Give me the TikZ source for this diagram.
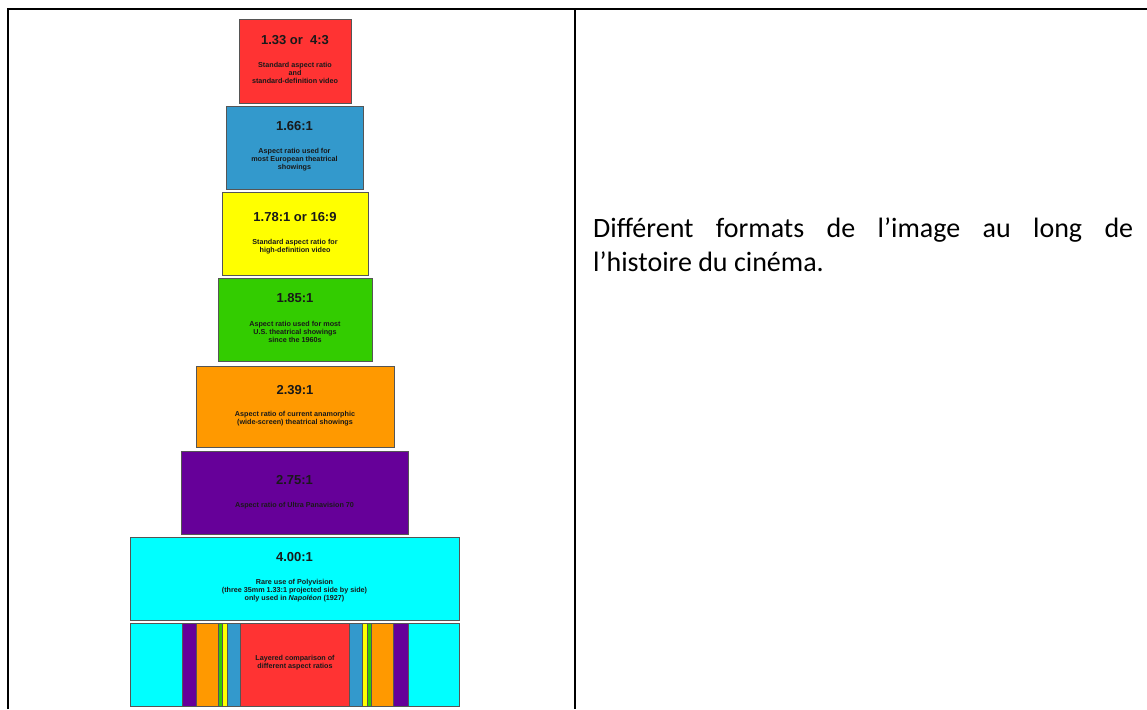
\documentclass[tikz,border=0pt]{standalone}
\usepackage{fontspec}
\newfontfamily\arialf{Liberation Sans}
\newfontfamily\calibrif{Carlito}
\definecolor{cred}{HTML}{FF3333}
\definecolor{cblue}{HTML}{3399CC}
\definecolor{cyellow}{HTML}{FFFF00}
\definecolor{cgreen}{HTML}{33CC00}
\definecolor{corange}{HTML}{FF9900}
\definecolor{cpurple}{HTML}{660099}
\definecolor{ccyan}{HTML}{00FFFF}
\definecolor{boxline}{HTML}{555555}
\tikzset{
  frameline/.style={line width=2.2pt, black},
  ratiobox/.style={draw=boxline, line width=1pt, anchor=north west, inner sep=0pt, outer sep=0pt},
  stripe/.style={draw=boxline, line width=0.5pt, anchor=north west, inner sep=0pt, outer sep=0pt, minimum height=83pt},
  boxtitle/.style={font=\arialf\bfseries\fontsize{13}{15}\selectfont, text=black!90, inner sep=0pt},
  boxsub/.style={font=\arialf\bfseries\fontsize{7.2}{8}\selectfont, text=black!90, align=center, inner sep=0pt},
  bodytext/.style={font=\calibrif\fontsize{28}{34}\selectfont, anchor=base west, inner sep=0pt}
}
\begin{document}
\begin{tikzpicture}[x=1pt,y=-1pt]
\useasboundingbox (0,0) rectangle (1147,709);
% table frame
\coordinate (tl) at (8,10);
\coordinate (tr) at (1147,10);
\coordinate (bl) at (8,709);
\coordinate (mt) at (575,10);
\coordinate (mb) at (575,709);
\draw[frameline] (bl) -- ([yshift=1.1pt]tl) -- ([yshift=1.1pt]tr);
\draw[frameline] (mt) -- (mb);

% boxes
\node[ratiobox, fill=cred, minimum width=112pt, minimum height=83pt] (b1) at (239,20) {};
\node[ratiobox, fill=cblue, minimum width=137pt, minimum height=83pt] (b2) at (226,106) {};
\node[ratiobox, fill=cyellow, minimum width=146pt, minimum height=83pt] (b3) at (222,192) {};
\node[ratiobox, fill=cgreen, minimum width=154pt, minimum height=83pt] (b4) at (218,278) {};
\node[ratiobox, fill=corange, minimum width=198pt, minimum height=81pt] (b5) at (196,366) {};
\node[ratiobox, fill=cpurple, minimum width=227pt, minimum height=83pt] (b6) at (181,451) {};
\node[ratiobox, fill=ccyan, minimum width=329pt, minimum height=83pt] (b7) at (130,537) {};

% titles and descriptions
\node[boxtitle] (t1) at (295,40) {1.33 or\ \ 4:3};
\node[boxsub] (s1) at (295,73) {Standard aspect ratio\\and\\standard-definition video};
\node[boxtitle] (t2) at (294.5,126) {1.66:1};
\node[boxsub] (s2) at (294.5,160) {Aspect ratio used for\\most European theatrical\\showings};
\node[boxtitle] (t3) at (295,217) {1.78:1 or 16:9};
\node[boxsub] (s3) at (295,247) {Standard aspect ratio for\\high-definition video};
\node[boxtitle] (t4) at (295,298) {1.85:1};
\node[boxsub] (s4) at (295,332) {Aspect ratio used for most\\U.S. theatrical showings\\since the 1960s};
\node[boxtitle] (t5) at (295,390) {2.39:1};
\node[boxsub] (s5) at (295,419) {Aspect ratio of current anamorphic\\(wide-screen) theatrical showings};
\node[boxtitle] (t6) at (294.5,480) {2.75:1};
\node[boxsub] (s6) at (294.5,506) {Aspect ratio of Ultra Panavision 70};
\node[boxtitle] (t7) at (294.5,557) {4.00:1};
\node[boxsub] (s7) at (294.5,591) {Rare use of Polyvision\\(three 35mm 1.33:1 projected side by side)\\only used in \textit{Napoléon} (1927)};

% layered comparison
\node[stripe, fill=ccyan, minimum width=52pt] (l1) at (130,623) {};
\node[stripe, fill=cpurple, minimum width=14pt] (l2) at (182,623) {};
\node[stripe, fill=corange, minimum width=22pt] (l3) at (196,623) {};
\node[stripe, fill=cgreen, minimum width=4pt] (l4) at (218,623) {};
\node[stripe, fill=cyellow, minimum width=5pt] (l5) at (222,623) {};
\node[stripe, fill=cblue, minimum width=13pt] (l6) at (227,623) {};
\node[stripe, fill=cred, minimum width=109pt] (l7) at (240,623) {};
\node[stripe, fill=cblue, minimum width=13pt] (l8) at (349,623) {};
\node[stripe, fill=cyellow, minimum width=5pt] (l9) at (362,623) {};
\node[stripe, fill=cgreen, minimum width=4pt] (l10) at (367,623) {};
\node[stripe, fill=corange, minimum width=22pt] (l11) at (371,623) {};
\node[stripe, fill=cpurple, minimum width=15pt] (l12) at (393,623) {};
\node[stripe, fill=ccyan, minimum width=51pt] (l13) at (408,623) {};
\draw[boxline, line width=1pt] (l1.north west) rectangle (l13.south east);
\node[boxsub] (s8) at (295,663) {Layered comparison of\\different aspect ratios};

% right column text
\node[bodytext] (r1) at (593,237) {\makebox[540pt][s]{Différent formats de l’image au long de}};
\node[bodytext] (r2) at (593,271) {l’histoire du cinéma.};
\end{tikzpicture}
\end{document}
